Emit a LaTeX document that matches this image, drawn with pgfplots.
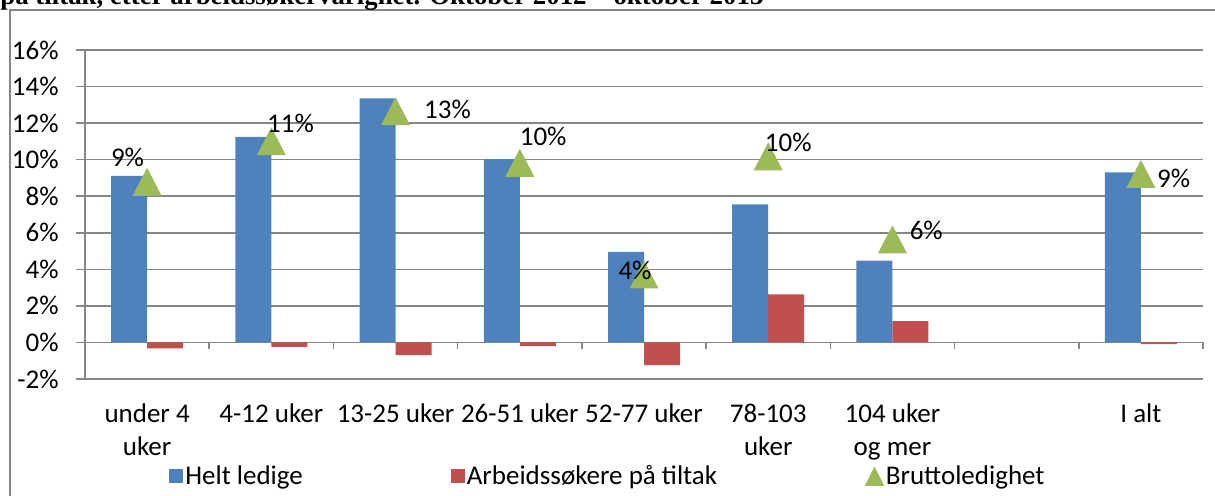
\documentclass[border=0pt]{standalone}
\usepackage{fontspec}
\setmainfont{Carlito}
\newfontfamily\titlefont{Liberation Serif}
\usepackage{graphicx}
\usepackage{pgfplots}
\usepackage{pgfplotstable}
\pgfplotsset{compat=1.18}
\definecolor{xlblue}{HTML}{4F81BD}
\definecolor{xlred}{HTML}{C0504D}
\definecolor{xlgreen}{HTML}{9BBB59}
\definecolor{xlgrid}{HTML}{868686}

\pgfdeclareplotmark{xltri}{%
 \pgfpathmoveto{\pgfqpoint{0pt}{7pt}}%
 \pgfpathlineto{\pgfqpoint{-7.25pt}{-7pt}}%
 \pgfpathlineto{\pgfqpoint{7.25pt}{-7pt}}%
 \pgfpathclose
 \pgfusepathqfill}

\pgfplotstableread{
x blue red
0 9.12 -0.33
1 11.25 -0.24
2 13.35 -0.70
3 10.03 -0.20
4 4.96 -1.24
5 7.55 2.63
6 4.47 1.17
8 9.31 -0.09
}\tblbars

\pgfplotstableread{
x brutto lab dx dy
0 8.79 9 -9.8 12.0
1 11.01 11 9.6 8.7
2 12.65 13 26.0 1.1
3 9.83 10 11.7 13.4
4 3.72 4 -4.5 1.8
5 10.18 10 10.0 6.8
6 5.64 6 16.9 4.3
8 9.22 9 16.4 -2.4
}\tblbrutto

\newcommand{\chartfont}{\fontsize{13.5}{16.5}\selectfont}

\begin{document}
\begin{tikzpicture}
\path[use as bounding box] (0pt,0pt) rectangle (607.5pt,-248pt);
\draw[xlgrid, line width=0.8pt] (5pt,-5pt) rectangle (615pt,-255pt);
\node[anchor=base west, inner sep=0pt] at (0pt,-2.5pt)
  {\resizebox{381.5pt}{!}{\titlefont\bfseries på tiltak, etter arbeidssøkervarighet. Oktober 2012 – oktober 2013}};
\begin{axis}[
  at={(42.5pt,-189.5pt)}, anchor=south west,
  scale only axis, width=559pt, height=164.5pt,
  xmin=-0.5, xmax=8.5, ymin=-2, ymax=16,
  enlargelimits=false, clip=false,
  axis y line=left, axis x line=middle,
  axis line style={-, xlgrid, line width=0.8pt},
  hide obscured x ticks=false, hide obscured y ticks=false,
  ytick={-2,0,2,4,6,8,10,12,14,16},
  yticklabels={-2\%,0\%,2\%,4\%,6\%,8\%,10\%,12\%,14\%,16\%},
  ymajorgrids, grid style={xlgrid, line width=0.8pt},
  tick align=outside,
  major tick length=4.5pt, minor tick length=3.5pt,
  tick style={xlgrid, line width=0.8pt},
  yticklabel style={font=\chartfont, inner sep=0pt, xshift=-8.5pt},
  xtick={0,1,2,3,4,5,6,7,8},
  xticklabels={{under 4\\uker},{4-12 uker},{13-25 uker},{26-51 uker},{52-77 uker},{78-103\\uker},{104 uker\\og mer},{},{I alt}},
  minor xtick={-0.5,0.5,1.5,2.5,3.5,4.5,5.5,6.5,7.5,8.5},
  major x tick style={draw=none},
  xticklabel style={font=\chartfont, align=center, anchor=north, inner sep=0pt, yshift=-26pt},
  /pgf/number format/assume math mode=true,
  legend columns=3,
  legend style={draw=none, fill=none, at={(0.0697,-0.296)}, anchor=west,
    font=\chartfont, nodes={inner sep=1.0pt},
    /tikz/every even column/.append style={column sep=73pt}},
]
\addplot[ybar, bar width=18pt, bar shift=-9pt, fill=xlblue, draw=none,
  legend image code/.code={\fill[xlblue] (0pt,-3.5pt) rectangle (7pt,3.5pt);}]
  table[x=x, y=blue] {\tblbars};
\addlegendentry{Helt ledige}
\addplot[ybar, bar width=18pt, bar shift=9pt, fill=xlred, draw=none,
  legend image code/.code={\fill[xlred] (0pt,-3.5pt) rectangle (7pt,3.5pt);}]
  table[x=x, y=red] {\tblbars};
\addlegendentry{Arbeidssøkere på tiltak\hspace{4pt}}
\addplot[only marks, mark=xltri, color=xlgreen, mark options={fill=xlgreen, draw=none},
  point meta=\thisrow{lab},
  visualization depends on={\thisrow{dx} \as \dx},
  visualization depends on={\thisrow{dy} \as \dy},
  nodes near coords={\pgfmathprintnumber{\pgfplotspointmeta}\%},
  every node near coord/.append style={black, font=\chartfont, anchor=center, inner sep=0pt, xshift=\dx pt, yshift=\dy pt},
  legend image code/.code={\fill[xlgreen] (0pt,-4.5pt) -- (4.5pt,4.5pt) -- (9pt,-4.5pt) -- cycle;}]
  table[x=x, y=brutto] {\tblbrutto};
\addlegendentry{Bruttoledighet}
\end{axis}
\end{tikzpicture}
\end{document}
